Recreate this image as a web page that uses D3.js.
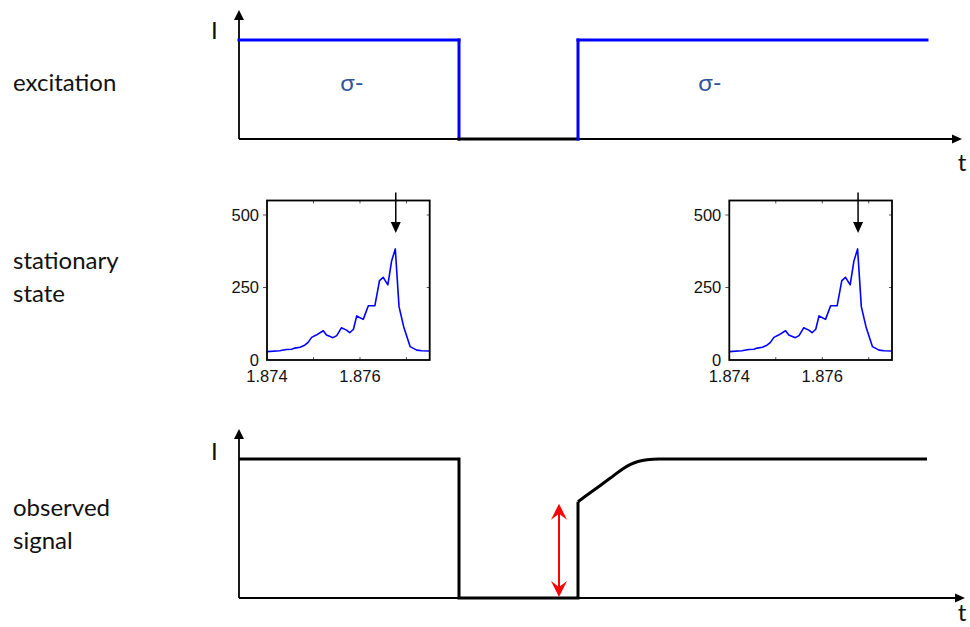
<!DOCTYPE html>
<html><head><meta charset="utf-8">
<script src="https://cdn.jsdelivr.net/npm/d3@7"></script>
<style>
html,body{margin:0;padding:0;background:#fff;}
svg{display:block;}
.lbl{font-family:Lato,"Open Sans",sans-serif;font-size:24px;fill:#111;}
.tk{font-family:"Liberation Sans",Arial,sans-serif;font-size:16.5px;fill:#111;}
</style></head>
<body>
<svg id="c" width="970" height="627"></svg>
<script>
// ---------- data ----------
const rowLabels = [["excitation"],["stationary","state"],["observed","signal"]];
// excitation (arbitrary time units, intensity normalised)
const excT = [0, 220, 220, 339, 339, 688];
const excI = [1, 1, 0, 0, 1, 1];
const polLabels = ["σ-", "σ-"];
const polT = [113, 471];
// observed signal
const obsT = [0, 220, 220, 339, 339, 355, 371, 383, 391, 399, 408, 420, 688];
const obsI = [1, 1, 0, 0, 0.693, 0.777, 0.861, 0.925, 0.960, 0.982, 0.995, 1, 1];
const jumpT = 320; // red double arrow position
// stationary-state spectrum (photon energy, eV ; intensity)
const specE = [1.874,1.87427,1.87442,1.87453,1.8746,1.87471,1.87481,1.87488,1.87496,1.87506,1.87521,1.87528,1.87542,1.8755,1.8756,1.87571,1.87578,1.87586,1.87593,1.87607,1.87618,1.87632,1.87642,1.8765,1.8766,1.87668,1.87676,1.87684,1.87694,1.87708,1.87722,1.87733,1.8775];
const specI = [29,32,36,37,41,44,51,60,78,86,101,86,77,84,111,103,94,106,152,140,187,187,274,285,259,341,383,184,115,46,34,32,31];
const specArrowE = 1.87677;
const specXTicks = [1.874, 1.876];
const specXMinor = [1.875, 1.876, 1.877];
const specYTicks = [0, 250, 500];

const svg = d3.select("#c");

// ---------- row labels ----------
const lblY = [[91],[269,302],[516,549]];
rowLabels.forEach((lines,i)=>{
  lines.forEach((t,j)=>{
    svg.append("text").attr("class","lbl").attr("x",13).attr("y",lblY[i][j]).text(t);
  });
});

// ---------- helpers ----------
function arrowHead(g, x, y, dir, len, w, color){
  let p;
  if(dir==="up") p=[[x,y],[x-w/2,y+len],[x+w/2,y+len]];
  else if(dir==="down") p=[[x,y],[x-w/2,y-len],[x+w/2,y-len]];
  else p=[[x,y],[x-len,y-w/2],[x-len,y+w/2]];
  g.append("path").attr("d","M"+p.map(d=>d.join(",")).join("L")+"Z").attr("fill",color);
}

const tX = d3.scaleLinear().domain([0,723]).range([239,962]);

function timeAxes(y0, yTop, xEnd, labelY, tY){
  const g = svg.append("g");
  g.append("line").attr("x1",tX(0)).attr("x2",tX(0)).attr("y1",y0).attr("y2",yTop+8)
    .attr("stroke","#000").attr("stroke-width",1.8);
  arrowHead(g, tX(0), yTop, "up", 10, 10, "#000");
  g.append("line").attr("x1",tX(0)).attr("x2",xEnd-8).attr("y1",y0).attr("y2",y0)
    .attr("stroke","#000").attr("stroke-width",1.8);
  arrowHead(g, xEnd, y0, "right", 10, 9, "#000");
  g.append("text").attr("class","lbl").attr("x",211).attr("y",labelY).text("I");
  g.append("text").attr("class","lbl").attr("x",962).attr("y",tY).attr("text-anchor","middle").text("t");
}

// ---------- excitation ----------
const topY = d3.scaleLinear().domain([0,1]).range([139,40]);
timeAxes(139, 10, 962, 39, 171);
const line = d3.line();
for(let i=0;i<excT.length-1;i++){
  const off = excI[i]===0 && excI[i+1]===0;
  svg.append("path")
    .attr("d", line([[tX(excT[i]),topY(excI[i])],[tX(excT[i+1]),topY(excI[i+1])]]))
    .attr("fill","none").attr("stroke", off?"#000":"#0000ff").attr("stroke-width",3)
    .attr("stroke-linecap","square");
}
polLabels.forEach((t,i)=>{
  svg.append("text").attr("class","lbl").attr("x",tX(polT[i])).attr("y",91)
    .attr("text-anchor","middle").style("fill","#2f5597").text(t);
});

// ---------- stationary state insets ----------
const sx = d3.scaleLinear().domain([1.874,1.8775]).range([0,162.7]);
const sy = d3.scaleLinear().domain([0,550]).range([159.5,0]);
[[267,200.5],[729.3,200.5]].forEach(([ox,oy])=>{
  const g = svg.append("g").attr("transform",`translate(${ox},${oy})`);
  const tk = g.append("g").attr("stroke","#555").attr("stroke-width",1);
  specXMinor.forEach(v=>{
    tk.append("line").attr("x1",sx(v)).attr("x2",sx(v)).attr("y1",sy(0)).attr("y2",sy(0)-3);
    tk.append("line").attr("x1",sx(v)).attr("x2",sx(v)).attr("y1",0).attr("y2",3);
  });
  specYTicks.slice(1).forEach(v=>{
    tk.append("line").attr("x1",0).attr("x2",-4).attr("y1",sy(v)).attr("y2",sy(v));
    tk.append("line").attr("x1",162.7).attr("x2",159.7).attr("y1",sy(v)).attr("y2",sy(v));
  });
  g.append("path")
    .attr("d", d3.line().x((d,i)=>sx(specE[i])).y(d=>sy(d))(specI))
    .attr("fill","none").attr("stroke","#0000ff").attr("stroke-width",1.6)
    .attr("stroke-linejoin","round");
  g.append("rect").attr("x",0).attr("y",0).attr("width",162.7).attr("height",159.5)
    .attr("fill","none").attr("stroke","#000").attr("stroke-width",1.8);
  specYTicks.forEach(v=>{
    g.append("text").attr("class","tk").attr("x",-8).attr("y",sy(v)).attr("dy","0.36em")
      .attr("text-anchor","end").text(v);
  });
  specXTicks.forEach(v=>{
    g.append("text").attr("class","tk").attr("x",sx(v)).attr("y",sy(0)+22)
      .attr("text-anchor","middle").text(d3.format(".3f")(v));
  });
  const ax = sx(specArrowE);
  g.append("line").attr("x1",ax).attr("x2",ax).attr("y1",sy(578)).attr("y2",sy(438)-8)
    .attr("stroke","#000").attr("stroke-width",1.5);
  arrowHead(g, ax, sy(438), "down", 11, 10, "#000");
});

// ---------- observed signal ----------
const botY = d3.scaleLinear().domain([0,1]).range([598,459]);
timeAxes(598, 429, 965, 460, 621);
const stepPts = [];
for(let i=0;i<=4;i++) stepPts.push([tX(obsT[i]),botY(obsI[i])]);
svg.append("path").attr("d", d3.line()(stepPts))
  .attr("fill","none").attr("stroke","#000").attr("stroke-width",3);
const recPts = [];
for(let i=4;i<obsT.length;i++) recPts.push([tX(obsT[i]),botY(obsI[i])]);
svg.append("path").attr("d", d3.line().curve(d3.curveMonotoneX)(recPts))
  .attr("fill","none").attr("stroke","#000").attr("stroke-width",3);

// red double arrow
const rx = tX(jumpT), rTop = botY(obsI[4]) , rBot = botY(0);
function barb(x, tip, s){
  const L=16, W=8, N=10;
  const d = `M${x},${tip} L${x-W},${tip - s*L} L${x},${tip - s*N} L${x+W},${tip - s*L} Z`;
  svg.append("path").attr("d",d).attr("fill","#ff0000");
}
svg.append("line").attr("x1",rx).attr("x2",rx).attr("y1",rTop+8).attr("y2",rBot-8)
  .attr("stroke","#ff0000").attr("stroke-width",2);
barb(rx, rTop+2, -1);
barb(rx, rBot-1, 1);
</script>
</body></html>
